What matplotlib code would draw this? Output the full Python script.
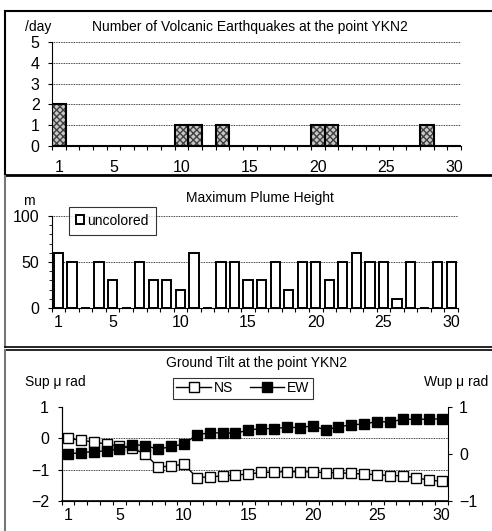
import numpy as np
import matplotlib
matplotlib.use('Agg')
import matplotlib.pyplot as plt
from matplotlib.lines import Line2D
from matplotlib.patches import Rectangle

plt.rcParams['font.family'] = ['Liberation Sans', 'DejaVu Sans']

days = np.arange(1, 31)
xlabels = [1, 5, 10, 15, 20, 25, 30]

# volcanic earthquakes per day
quakes = [2, 0, 0, 0, 0, 0, 0, 0, 0, 1, 1, 0, 1, 0, 0, 0, 0, 0, 0, 1,
          1, 0, 0, 0, 0, 0, 0, 1, 0, 0]

# maximum plume height (m)
plume = [60, 50, 0, 50, 30, 0, 50, 30, 30, 20, 60, 0, 50, 50, 30, 30, 50, 20, 50, 50,
         30, 50, 60, 50, 50, 10, 50, 0, 50, 50]

# ground tilt (micro rad)
tilt_ns = [0.0, -0.06, -0.12, -0.18, -0.25, -0.32, -0.5, -0.92, -0.88, -0.83,
           -1.25, -1.23, -1.2, -1.17, -1.14, -1.09, -1.08, -1.06, -1.07, -1.07,
           -1.1, -1.1, -1.12, -1.14, -1.16, -1.19, -1.19, -1.26, -1.33, -1.37]
tilt_ew = [0.0, 0.03, 0.05, 0.07, 0.1, 0.2, 0.18, 0.1, 0.16, 0.21,
           0.41, 0.45, 0.45, 0.44, 0.51, 0.54, 0.54, 0.57, 0.56, 0.6,
           0.51, 0.58, 0.62, 0.64, 0.69, 0.68, 0.74, 0.74, 0.74, 0.75]

W, H = 492, 531
fig = plt.figure(figsize=(W / 100, H / 100), dpi=100)


def px_axes(x0, x1, ytop, ybot):
    return fig.add_axes([x0 / W, 1 - ybot / H, (x1 - x0) / W, (ybot - ytop) / H])


def fig_line(xs, ys, **kw):
    fig.add_artist(Line2D([x / W for x in xs], [1 - y / H for y in ys],
                          transform=fig.transFigure, **kw))


def category_xaxis(ax, pad):
    ax.set_xlim(0.5, 30.5)
    ax.set_xticks(np.arange(0.5, 31, 1))
    ax.set_xticklabels([])
    ax.set_xticks(xlabels, minor=True)
    ax.set_xticklabels([str(v) for v in xlabels], minor=True, fontsize=11.5)
    ax.tick_params(axis='x', which='major', direction='out', length=3, width=0.8)
    ax.tick_params(axis='x', which='minor', length=0, pad=pad)
    for s in ['top', 'right']:
        ax.spines[s].set_visible(False)


# panel frames
fig_line([4.5, 4.5], [11, 175], color='black', lw=1.5)
fig_line([4.5, 500], [11, 11], color='black', lw=1.5)
fig_line([4.5, 500], [175, 175], color='black', lw=2)
fig_line([4.5, 4.5], [176, 347], color='#777777', lw=1.5)
fig_line([4.5, 500], [346.5, 346.5], color='black', lw=1.2)
fig_line([4.5, 500], [349.5, 349.5], color='black', lw=1.2)
fig_line([4.5, 4.5], [350, 531], color='#777777', lw=1.5)

# ---- panel 1
ax1 = px_axes(52, 461, 42, 146)
ax1.bar(days, quakes, width=1.0, color='#c8c8c8', edgecolor='#404040', hatch='xxxxx', lw=0)
ax1.bar(days, quakes, width=1.0, fill=False, edgecolor='black', lw=1.5)
ax1.set_ylim(0, 5)
ax1.set_yticks(range(6))
ax1.tick_params(axis='y', direction='out', length=3, labelsize=11.5, pad=6)
for v in range(1, 6):
    ax1.axhline(v, color='black', lw=0.6, ls=(0, (1, 1)), zorder=0)
category_xaxis(ax1, 10)
fig.text(25 / W, 1 - 27 / H, '/day', fontsize=10, va='center')
fig.text(250 / W, 1 - 27 / H, 'Number of Volcanic Earthquakes at the point YKN2',
         fontsize=10, ha='center', va='center')

# ---- panel 2
ax2 = px_axes(51.7, 458, 216, 308)
ax2.bar(days, plume, width=0.68, color='white', edgecolor='black', lw=1.4)
ax2.set_ylim(0, 100)
ax2.set_yticks([0, 50, 100])
ax2.set_yticks(range(0, 101, 10), minor=True)
ax2.tick_params(axis='y', which='major', direction='out', length=3, labelsize=11.5, pad=6)
ax2.tick_params(axis='y', which='minor', direction='out', length=2.5)
for v in [50, 100]:
    ax2.axhline(v, color='black', lw=0.6, ls=(0, (1, 1)), zorder=0)
category_xaxis(ax2, 5)
box = Rectangle((0, 0), 1, 1, facecolor='white', edgecolor='black', lw=1.4)
leg2 = ax2.legend([box], ['uncolored'], loc='upper left', bbox_to_anchor=(0.043, 1.1),
                  fontsize=10, frameon=True, fancybox=False, handlelength=0.6,
                  handleheight=0.6, handletextpad=0.2, borderpad=0.5, borderaxespad=0)
leg2.get_frame().set_edgecolor('black')
leg2.get_frame().set_linewidth(0.8)
fig.text(29 / W, 1 - 201 / H, 'm', fontsize=10, va='center', ha='center')
fig.text(260 / W, 1 - 198 / H, 'Maximum Plume Height', fontsize=10, ha='center', va='center')

# ---- panel 3
ax3 = px_axes(61.5, 448, 407, 501)
l_ns, = ax3.plot(days, tilt_ns, color='black', lw=1, marker='s', markersize=6.5,
                 markerfacecolor='white', markeredgecolor='black', zorder=3)
ax3.set_ylim(-2, 1)
ax3.set_yticks([-2, -1, 0, 1])
ax3.set_yticklabels(['\u22122', '\u22121', '0', '1'])
ax3.tick_params(axis='y', direction='out', length=3, labelsize=11.5, pad=6)
for v in [0, -1]:
    ax3.axhline(v, color='black', lw=0.6, ls=(0, (1, 1)), zorder=0)
category_xaxis(ax3, 5)
ax3.spines['bottom'].set_linewidth(1.2)
ax3b = ax3.twinx()
l_ew, = ax3b.plot(days, tilt_ew, color='black', lw=1, marker='s', markersize=6.5,
                  markerfacecolor='black', markeredgecolor='black', zorder=3)
ax3b.set_ylim(-1, 1)
ax3b.set_yticks([-1, 0, 1])
ax3b.set_yticklabels(['\u22121', '0', '1'])
ax3b.tick_params(axis='y', direction='out', length=3, labelsize=11.5, pad=5)
ax3b.spines['top'].set_visible(False)
leg3 = ax3.legend([l_ns, l_ew], ['NS', 'EW'], loc='upper left', bbox_to_anchor=(0.288, 1.31),
                  ncol=2, fontsize=10, frameon=True, fancybox=False, handlelength=2.5,
                  handletextpad=0.2, columnspacing=1.2, borderpad=0.25, borderaxespad=0)
leg3.get_frame().set_edgecolor('black')
leg3.get_frame().set_linewidth(0.8)
fig.text(257 / W, 1 - 363 / H, 'Ground Tilt at the point YKN2', fontsize=10, ha='center', va='center')
fig.text(25 / W, 1 - 382 / H, 'Sup \u03bc rad', fontsize=10, va='center')
fig.text(488 / W, 1 - 382 / H, 'Wup \u03bc rad', fontsize=10, va='center', ha='right')

fig.savefig('out.png', dpi=100)
